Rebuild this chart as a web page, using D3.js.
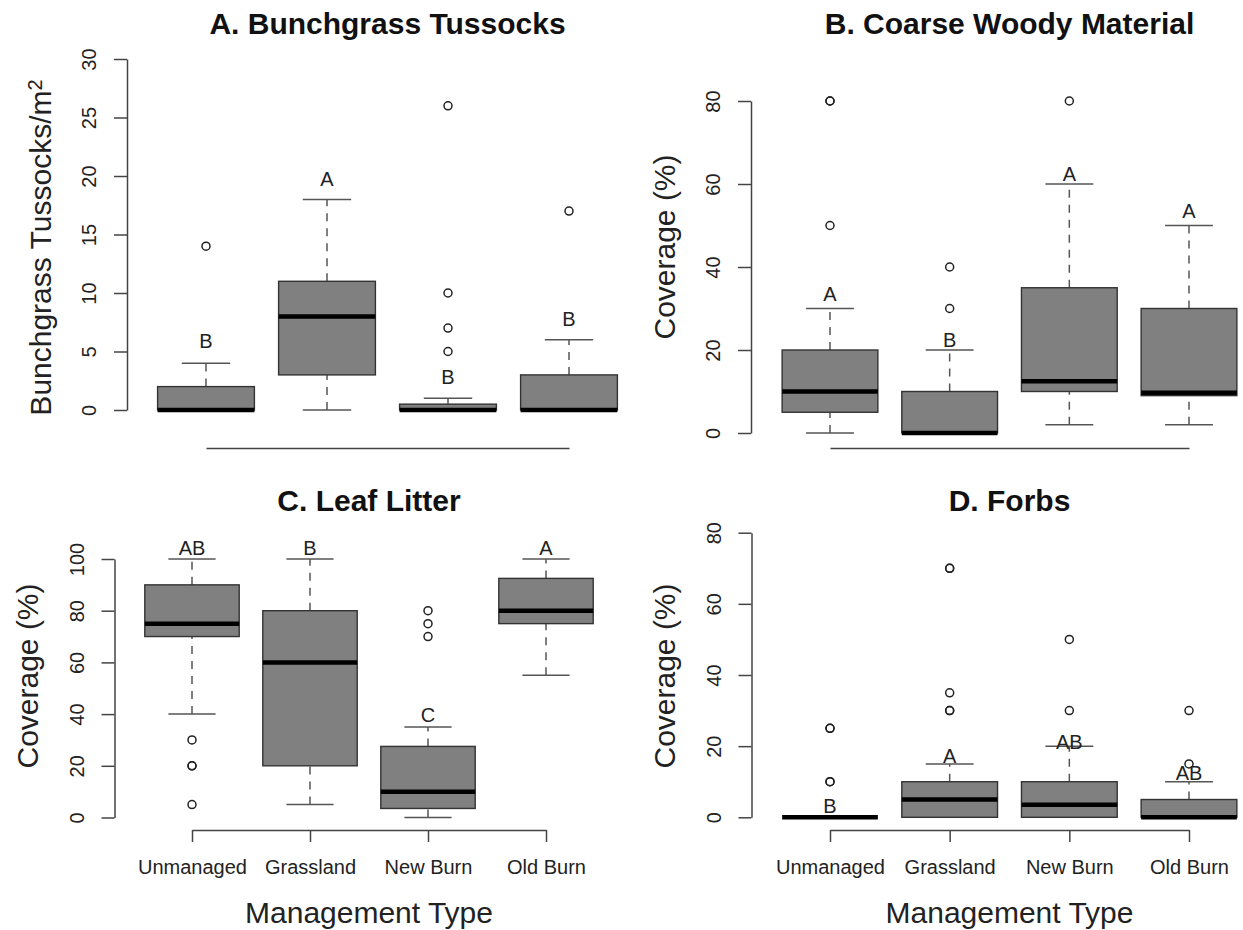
<!DOCTYPE html>
<html>
<head>
<meta charset="utf-8">
<script src="https://cdn.jsdelivr.net/npm/d3@7"></script>
<style>
  body { margin: 0; background: #fff; }
  text { font-family: "Liberation Sans", Arial, Helvetica, sans-serif; }
</style>
</head>
<body>
<script>
// Management types along the x axis
const categories = ["Unmanaged", "Grassland", "New Burn", "Old Burn"];

// Box stats for each panel: [lower whisker, Q1, median, Q3, upper whisker]
const tussockBoxes = [[0, 0, 0, 2, 4], [0, 3, 8, 11, 18], [0, 0, 0, 0.5, 1], [0, 0, 0, 3, 6]];
const tussockOutliers = [[14], [], [26, 10, 7, 5], [17]];
const tussockLetters = ["B", "A", "B", "B"];
const tussockLetterAt = [5.9, 19.8, 2.8, 7.8];
const tussockTicks = [0, 5, 10, 15, 20, 25, 30];

const woodyBoxes = [[0, 5, 10, 20, 30], [0, 0, 0, 10, 20], [2, 10, 12.5, 35, 60], [2, 9, 9.7, 30, 50]];
const woodyOutliers = [[80, 80, 50], [40, 30], [80], []];
const woodyLetters = ["A", "B", "A", "A"];
const woodyLetterAt = [33.5, 22.4, 62.5, 53.5];
const woodyTicks = [0, 20, 40, 60, 80];

const litterBoxes = [[40, 70, 75, 90, 100], [5, 20, 60, 80, 100], [0, 3.5, 10, 27.5, 35], [55, 75, 80, 92.5, 100]];
const litterOutliers = [[30, 20, 20, 5], [], [80, 75, 70], []];
const litterLetters = ["AB", "B", "C", "A"];
const litterLetterAt = [104.3, 104.3, 39.7, 104.3];
const litterTicks = [0, 20, 40, 60, 80, 100];

const forbBoxes = [[0, 0, 0, 0, 0], [0, 0, 5, 10, 15], [0, 0, 3.5, 10, 20], [0, 0, 0, 5, 10]];
const forbOutliers = [[25, 25, 10, 10], [70, 70, 35, 30, 30], [50, 30], [30, 15]];
const forbLetters = ["B", "A", "AB", "AB"];
const forbLetterAt = [3.2, 17.2, 21.2, 12.5];
const forbTicks = [0, 20, 40, 60, 80];

// where each panel sits on the page
const panels = [
  {title: "A. Bunchgrass Tussocks", ylab: "Bunchgrass Tussocks/m", sup: "2",
   boxes: tussockBoxes, outliers: tussockOutliers, letters: tussockLetters, letterAt: tussockLetterAt, ticks: tussockTicks,
   axisX: 127, y0: 410, y1: 59, x0: 206, x1: 569, xAxisY: 448, titleY: 34, ylabY: 247.5, bottom: false},
  {title: "B. Coarse Woody Material", ylab: "Coverage (%)",
   boxes: woodyBoxes, outliers: woodyOutliers, letters: woodyLetters, letterAt: woodyLetterAt, ticks: woodyTicks,
   axisX: 751, y0: 433, y1: 101, x0: 830, x1: 1189, xAxisY: 448, titleY: 34, ylabY: 247, bottom: false},
  {title: "C. Leaf Litter", ylab: "Coverage (%)",
   boxes: litterBoxes, outliers: litterOutliers, letters: litterLetters, letterAt: litterLetterAt, ticks: litterTicks,
   axisX: 114.5, y0: 817.5, y1: 559, x0: 192, x1: 546, xAxisY: 830, titleY: 510.5, ylabY: 676, bottom: true},
  {title: "D. Forbs", ylab: "Coverage (%)",
   boxes: forbBoxes, outliers: forbOutliers, letters: forbLetters, letterAt: forbLetterAt, ticks: forbTicks,
   axisX: 751.5, y0: 817.3, y1: 532.7, x0: 830, x1: 1189, xAxisY: 830, titleY: 510.5, ylabY: 676, bottom: true}
];

const svg = d3.select("body")
  .append("svg")
  .attr("width", 1243)
  .attr("height", 930);

panels.forEach(function(p) {
  const g = svg.append("g");

  const yScale = d3.scaleLinear()
    .domain([0, d3.max(p.ticks)])
    .range([p.y0, p.y1]);

  const xScale = d3.scalePoint()
    .domain(categories)
    .range([p.x0, p.x1]);

  const boxW = xScale.step() * 0.8;

  // y axis with labels turned along the axis, like R does
  const yAxis = g.append("g")
    .attr("transform", "translate(" + p.axisX + ",0)")
    .call(d3.axisLeft(yScale).tickValues(p.ticks).tickSize(13).tickSizeOuter(0).tickFormat(d3.format("d")));
  yAxis.selectAll("path, line").attr("stroke", "#444").attr("stroke-width", 1.5);
  yAxis.selectAll("text")
    .attr("x", null)
    .attr("dy", "0.36em")
    .attr("text-anchor", "middle")
    .attr("transform", "translate(-38,0) rotate(-90)")
    .attr("fill", "#222")
    .style("font-size", "20px");

  // x axis: ticks and names only on the bottom row
  const xAxis = g.append("g")
    .attr("transform", "translate(0," + p.xAxisY + ")")
    .call(d3.axisBottom(xScale).tickSize(p.bottom ? 12 : 0).tickSizeOuter(0).tickPadding(18));
  xAxis.selectAll("path, line").attr("stroke", "#444").attr("stroke-width", 1.5);
  xAxis.selectAll("text")
    .attr("fill", "#222")
    .style("font-size", "20px")
    .style("display", p.bottom ? null : "none");

  categories.forEach(function(c, i) {
    const b = p.boxes[i];
    const cx = xScale(c);

    // dashed whiskers
    [[b[0], b[1]], [b[3], b[4]]].forEach(function(w) {
      g.append("line")
        .attr("x1", cx).attr("x2", cx)
        .attr("y1", yScale(w[0])).attr("y2", yScale(w[1]))
        .attr("stroke", "#555").attr("stroke-width", 1.5)
        .attr("stroke-dasharray", "8,7");
    });
    // whisker ends
    [b[0], b[4]].forEach(function(v) {
      g.append("line")
        .attr("x1", cx - boxW / 4).attr("x2", cx + boxW / 4)
        .attr("y1", yScale(v)).attr("y2", yScale(v))
        .attr("stroke", "#555").attr("stroke-width", 1.5);
    });

    g.append("rect")
      .attr("x", cx - boxW / 2)
      .attr("y", yScale(b[3]))
      .attr("width", boxW)
      .attr("height", yScale(b[1]) - yScale(b[3]))
      .attr("fill", "#808080")
      .attr("stroke", "#333")
      .attr("stroke-width", 1.4);

    // median
    g.append("line")
      .attr("x1", cx - boxW / 2).attr("x2", cx + boxW / 2)
      .attr("y1", yScale(b[2])).attr("y2", yScale(b[2]))
      .attr("stroke", "#000").attr("stroke-width", 4.5);

    g.selectAll(null)
      .data(p.outliers[i])
      .enter()
      .append("circle")
      .attr("cx", cx)
      .attr("cy", function(d) { return yScale(d); })
      .attr("r", 4)
      .attr("fill", "none")
      .attr("stroke", "#222")
      .attr("stroke-width", 1.5);

    // significance letters
    g.append("text")
      .attr("x", cx)
      .attr("y", yScale(p.letterAt[i]))
      .attr("dy", "0.36em")
      .attr("text-anchor", "middle")
      .attr("fill", "#222")
      .style("font-size", "20px")
      .text(p.letters[i]);
  });

  // panel title
  g.append("text")
    .attr("x", (p.x0 + p.x1) / 2)
    .attr("y", p.titleY)
    .attr("text-anchor", "middle")
    .attr("fill", "#111")
    .style("font-size", "30px")
    .style("font-weight", "bold")
    .text(p.title);

  // y axis title
  const yl = g.append("text")
    .attr("transform", "translate(" + (p.axisX - 87) + "," + p.ylabY + ") rotate(-90)")
    .attr("dy", "0.36em")
    .attr("text-anchor", "middle")
    .attr("fill", "#222")
    .style("font-size", "30px")
    .text(p.ylab);
  if (p.sup) {
    yl.append("tspan")
      .attr("dy", "-0.45em")
      .style("font-size", "20px")
      .text(p.sup);
  }

  if (p.bottom) {
    g.append("text")
      .attr("x", (p.x0 + p.x1) / 2)
      .attr("y", 922.5)
      .attr("text-anchor", "middle")
      .attr("fill", "#222")
      .style("font-size", "30px")
      .text("Management Type");
  }
});
</script>
</body>
</html>
